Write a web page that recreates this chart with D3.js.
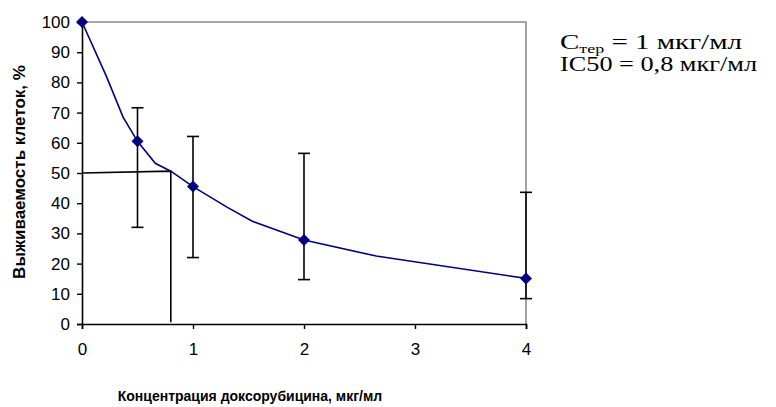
<!DOCTYPE html>
<html><head><meta charset="utf-8">
<script src="https://cdn.jsdelivr.net/npm/d3@7"></script>
<style>body{margin:0;background:#fff}svg{display:block}</style>
</head><body>
<svg id="c" width="776" height="407"></svg>
<script>
// Data
const concentrations = [0, 0.5, 1, 2, 4];
const survival = [100, 60.5, 45.5, 27.8, 15.1];
const errLow = [100, 32, 22, 14.7, 8.4];
const errHigh = [100, 71.6, 62.1, 56.5, 43.6];
const curveX = [0, 0.22, 0.37, 0.5, 0.66, 0.8, 1, 1.31, 1.53, 2, 2.65, 4];
const curveY = [100, 82, 68.5, 60.5, 53.2, 50.6, 45.5, 38.6, 34.1, 27.8, 22.5, 15.1];
const ic50 = 0.8, ic50Level = 50, ic50Cross = 50.6;
const xTicks = [0, 1, 2, 3, 4];
const yTicks = d3.range(0, 101, 10);
const xTitle = "Концентрация доксорубицина, мкг/мл";
const yTitle = "Выживаемость клеток, %";

const svg = d3.select("#c");
const x = d3.scaleLinear().domain([0, 4]).range([82, 526]);
const y = d3.scaleLinear().domain([0, 100]).range([324, 22]);

// plot frame (top/right gray)
svg.append("path")
  .attr("d", `M${x(0)},${y(100)}H${x(4)}V${y(0)}`)
  .attr("fill", "none").attr("stroke", "#8c8c8c").attr("stroke-width", 1.6);

// axes
const font = "Arial, 'Liberation Sans', sans-serif";
const ax = svg.append("g").attr("transform", `translate(0,${y(0)})`)
  .call(d3.axisBottom(x).tickValues(xTicks).tickSize(5).tickPadding(14).tickFormat(d3.format("d")));
const ay = svg.append("g").attr("transform", `translate(${x(0)},0)`)
  .call(d3.axisLeft(y).tickValues(yTicks).tickSize(5).tickPadding(7).tickFormat(d3.format("d")));
[ax, ay].forEach(g => {
  g.select(".domain").attr("stroke", "#000").attr("stroke-width", 1.6);
  g.selectAll(".tick line").attr("stroke", "#000").attr("stroke-width", 1.4);
  g.selectAll(".tick text").attr("fill", "#000").style("font-family", font).style("font-size", "17px");
});

// IC50 guide lines
svg.append("path")
  .attr("d", `M${x(0)},${y(ic50Level)}L${x(ic50)},${y(ic50Cross)}L${x(ic50)},${y(0.6)}`)
  .attr("fill", "none").attr("stroke", "#000").attr("stroke-width", 1.6);

// error bars
const eb = svg.append("g").attr("stroke", "#000").attr("stroke-width", 1.6);
concentrations.forEach((c, i) => {
  if (errHigh[i] === errLow[i]) return;
  eb.append("line").attr("x1", x(c)).attr("x2", x(c)).attr("y1", y(errLow[i])).attr("y2", y(errHigh[i]));
  [errLow[i], errHigh[i]].forEach(v => {
    eb.append("line").attr("x1", x(c) - 6).attr("x2", x(c) + 6).attr("y1", y(v)).attr("y2", y(v));
  });
});

// curve
const pts = curveX.map((d, i) => [d, curveY[i]]);
svg.append("path").datum(pts)
  .attr("d", d3.line().x(d => x(d[0])).y(d => y(d[1])))
  .attr("fill", "none").attr("stroke", "#000080").attr("stroke-width", 1.6);

// markers
svg.append("g").selectAll("path").data(concentrations).join("path")
  .attr("transform", (d, i) => `translate(${x(d)},${y(survival[i])})`)
  .attr("d", "M0,-6L6,0L0,6L-6,0Z")
  .attr("fill", "#000080");

// axis titles
svg.append("text").attr("x", 250).attr("y", 401).attr("text-anchor", "middle")
  .style("font-family", font).style("font-weight", "bold").style("font-size", "14px").text(xTitle);
svg.append("text").attr("transform", `translate(25,172) rotate(-90)`).attr("text-anchor", "middle")
  .style("font-family", font).style("font-weight", "bold").style("font-size", "17px").text(yTitle);

// annotation
const serif = "'Times New Roman', 'Liberation Serif', serif";
const t1 = svg.append("text").attr("x", 560).attr("y", 49).style("font-family", serif).style("font-size", "21px")
  .attr("textLength", 182).attr("lengthAdjust", "spacingAndGlyphs");
t1.append("tspan").text("C");
t1.append("tspan").attr("dy", 4).style("font-size", "13px").text("тер");
t1.append("tspan").attr("dy", -4).text(" = 1 мкг/мл");
svg.append("text").attr("x", 560).attr("y", 71).style("font-family", serif).style("font-size", "21px")
  .attr("textLength", 197).attr("lengthAdjust", "spacingAndGlyphs")
  .text("IC50 = 0,8 мкг/мл");
</script>
</body></html>
